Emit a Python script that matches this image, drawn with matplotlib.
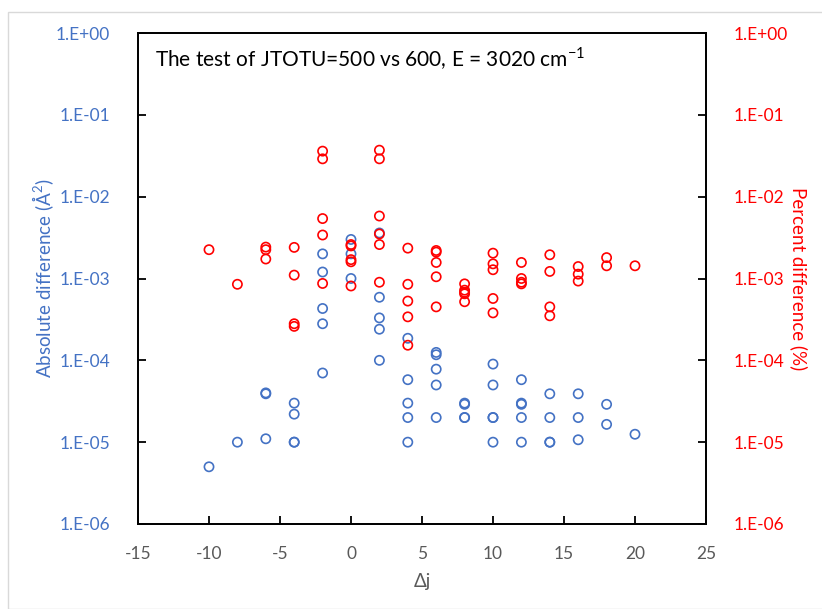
import matplotlib
matplotlib.use("Agg")
import matplotlib.pyplot as plt
from matplotlib.ticker import FixedLocator, NullLocator
from matplotlib.patches import Rectangle

plt.rcParams['font.family'] = ['Lato', 'DejaVu Sans']
plt.rcParams['mathtext.fontset'] = 'custom'
plt.rcParams['mathtext.rm'] = 'Lato'

# ---- data ----
dj_abs = [-10, -8, -6, -6, -6, -4, -4, -4, -4,
          -2, -2, -2, -2, -2, 0, 0, 0,
          2, 2, 2, 2, 2, 4, 4, 4, 4, 4,
          6, 6, 6, 6, 6, 8, 8, 8, 8,
          10, 10, 10, 10, 10, 12, 12, 12, 12, 12,
          14, 14, 14, 14, 16, 16, 16, 18, 18, 20]
abs_diff = [5.0e-6, 1.0e-5, 4.0e-5, 3.9e-5, 1.1e-5, 3.0e-5, 2.2e-5, 1.0e-5, 1.0e-5,
            2.0e-3, 1.2e-3, 4.3e-4, 2.8e-4, 7.0e-5, 3.0e-3, 2.0e-3, 1.0e-3,
            3.6e-3, 5.9e-4, 3.3e-4, 2.4e-4, 1.0e-4, 1.86e-4, 5.8e-5, 3.0e-5, 2.0e-5, 1.0e-5,
            1.25e-4, 1.17e-4, 7.8e-5, 5.0e-5, 2.0e-5, 3.0e-5, 2.9e-5, 2.0e-5, 2.0e-5,
            9.0e-5, 5.0e-5, 2.0e-5, 2.0e-5, 1.0e-5, 5.8e-5, 3.0e-5, 2.9e-5, 2.0e-5, 1.0e-5,
            3.9e-5, 2.0e-5, 1.0e-5, 1.0e-5, 3.9e-5, 2.0e-5, 1.07e-5, 2.9e-5, 1.65e-5, 1.25e-5]

dj_pct = [-10, -8, -6, -6, -6, -4, -4, -4, -4,
          -2, -2, -2, -2, -2, 0, 0, 0, 0, 0,
          2, 2, 2, 2, 2, 2, 4, 4, 4, 4, 4,
          6, 6, 6, 6, 6, 8, 8, 8, 8, 8,
          10, 10, 10, 10, 10, 12, 12, 12, 12,
          14, 14, 14, 14, 16, 16, 16, 18, 18, 20]
pct_diff = [2.25e-3, 8.5e-4, 2.42e-3, 2.25e-3, 1.73e-3, 2.4e-3, 1.1e-3, 2.8e-4, 2.6e-4,
            3.6e-2, 2.9e-2, 5.4e-3, 3.4e-3, 8.7e-4, 2.6e-3, 2.5e-3, 1.7e-3, 1.6e-3, 8.1e-4,
            3.7e-2, 2.9e-2, 5.8e-3, 3.5e-3, 2.6e-3, 9.0e-4, 2.35e-3, 8.5e-4, 5.3e-4, 3.4e-4, 1.53e-4,
            2.2e-3, 2.1e-3, 1.57e-3, 1.05e-3, 4.5e-4, 8.6e-4, 7.2e-4, 6.8e-4, 6.5e-4, 5.2e-4,
            2.04e-3, 1.51e-3, 1.28e-3, 5.7e-4, 3.8e-4, 1.57e-3, 1.0e-3, 9.0e-4, 8.6e-4,
            1.95e-3, 1.22e-3, 4.5e-4, 3.5e-4, 1.4e-3, 1.13e-3, 9.3e-4, 1.8e-3, 1.43e-3, 1.43e-3]

x_ticks = [-15, -10, -5, 0, 5, 10, 15, 20, 25]
y_ticks = [1e0, 1e-1, 1e-2, 1e-3, 1e-4, 1e-5, 1e-6]
y_labels = ['1.E+00', '1.E-01', '1.E-02', '1.E-03', '1.E-04', '1.E-05', '1.E-06']

BLUE = '#4472C4'
RED = '#FF0000'
GRAY = '#595959'

fig = plt.figure(figsize=(8.22, 6.09), dpi=100)
fig.patches.append(Rectangle((8 / 822, 0), 1, 1 - 12 / 609, transform=fig.transFigure,
                             fill=False, edgecolor='#D9D9D9', linewidth=1.0))

ax = fig.add_axes([138 / 822, 1 - 524 / 609, (706 - 138) / 822, (524 - 33) / 609])
ax2 = ax.twinx()

for a in (ax, ax2):
    a.set_yscale('log')
    a.set_ylim(1e-6, 1e0)
    a.set_xlim(-15, 25)
    a.yaxis.set_major_locator(FixedLocator(y_ticks))
    a.yaxis.set_minor_locator(NullLocator())
    for s in a.spines.values():
        s.set_linewidth(1.3)
        s.set_color('black')

ax.scatter(dj_abs, abs_diff, s=44, facecolors='none', edgecolors=BLUE, linewidths=1.2, zorder=3)
ax2.scatter(dj_pct, pct_diff, s=44, facecolors='none', edgecolors=RED, linewidths=1.2, zorder=3)

ax.set_xticks(x_ticks)
ax.set_xticklabels([str(t) for t in x_ticks])
ax.set_yticklabels(y_labels)
ax2.set_yticklabels(y_labels)

ax.tick_params(axis='x', direction='in', length=6, width=1.3, colors='black',
               labelcolor=GRAY, labelsize=12.5, pad=16)
ax.tick_params(axis='y', direction='in', length=6, width=1.3, colors='black',
               labelcolor=BLUE, labelsize=12.5, pad=20)
ax2.tick_params(axis='y', direction='in', length=6, width=1.3, colors='black',
                labelcolor=RED, labelsize=12.5, pad=20)

ax.set_xlabel('Δj', color=GRAY, fontsize=13.5, labelpad=8)
ax.set_ylabel('Absolute difference (Å$^{\\mathregular{2}}$)', color=BLUE, fontsize=13.5, labelpad=0)
ax2.set_ylabel('Percent difference (%)', color=RED, fontsize=13.5, rotation=-90, labelpad=14)

ax.text(0.03, 0.975, 'The test of JTOTU=500 vs 600, E = 3020 cm$^{\\mathregular{-1}}$',
        transform=ax.transAxes, ha='left', va='top', fontsize=15, color='black')

fig.savefig('out.png', dpi=100)
